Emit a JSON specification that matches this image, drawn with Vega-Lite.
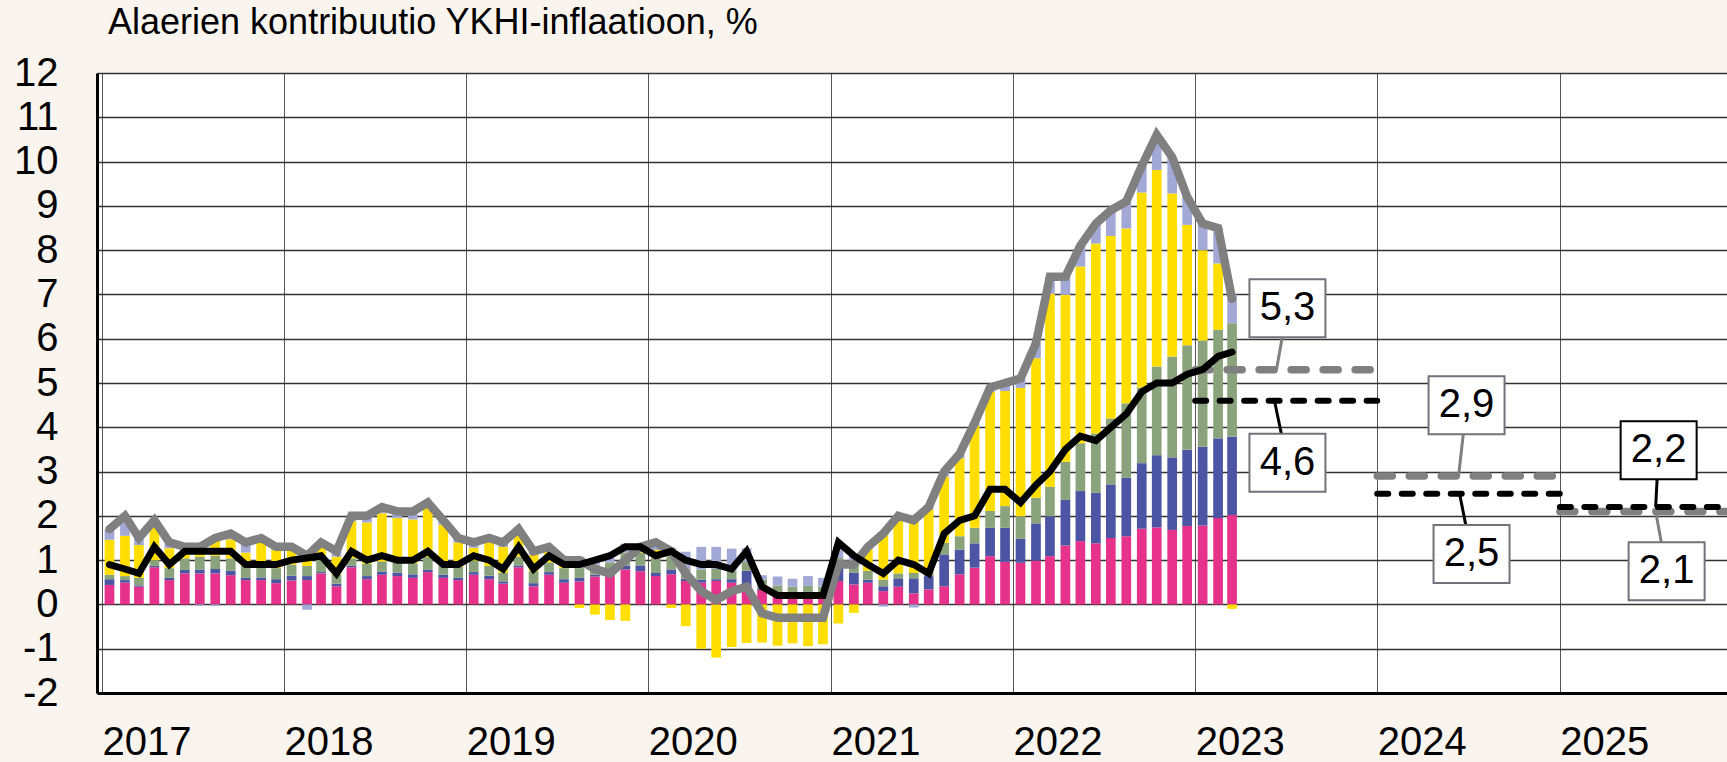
{
  "$schema": "https://vega.github.io/schema/vega-lite/v6.json",
  "width": 1630,
  "height": 620,
  "autosize": {"type": "none"},
  "padding": {"left": 97, "top": 73, "right": 0, "bottom": 69},
  "background": "#f9f5ee",
  "config": {
    "view": {"fill": "white", "stroke": null},
    "font": "Liberation Sans",
    "axis": {"ticks": false, "labelColor": "black", "labelFont": "Liberation Sans", "labelFontSize": 40, "domainColor": "black", "domainWidth": 3, "grid": true}
  },
  "title": {
    "text": "Alaerien kontribuutio YKHI-inflaatioon, %",
    "anchor": "start", "frame": "group", "dx": 11, "dy": 38, "offset": 21,
    "fontSize": 36, "fontWeight": "normal", "font": "Liberation Sans", "color": "black", "baseline": "alphabetic"
  },
  "datasets": {
    "kuukaudet": [
      {"kk":"2017-01-16","Palvelut":0.44,"Muut tavarat":0.13,"Jalostettu ruoka":0.10,"Energia":0.79,"Ei-jalostettu ruoka":0.24,"YKHI":1.7,"Pohjainflaatio":0.9},
      {"kk":"2017-02-16","Palvelut":0.49,"Muut tavarat":0.06,"Jalostettu ruoka":0.09,"Energia":0.91,"Ei-jalostettu ruoka":0.45,"YKHI":2.0,"Pohjainflaatio":0.8},
      {"kk":"2017-03-16","Palvelut":0.40,"Muut tavarat":0.03,"Jalostettu ruoka":0.17,"Energia":0.74,"Ei-jalostettu ruoka":0.16,"YKHI":1.5,"Pohjainflaatio":0.7},
      {"kk":"2017-04-16","Palvelut":0.84,"Muut tavarat":0.03,"Jalostettu ruoka":0.13,"Energia":0.73,"Ei-jalostettu ruoka":0.17,"YKHI":1.9,"Pohjainflaatio":1.3},
      {"kk":"2017-05-16","Palvelut":0.55,"Muut tavarat":0.05,"Jalostettu ruoka":0.22,"Energia":0.45,"Ei-jalostettu ruoka":0.13,"YKHI":1.4,"Pohjainflaatio":0.9},
      {"kk":"2017-06-16","Palvelut":0.70,"Muut tavarat":0.08,"Jalostettu ruoka":0.26,"Energia":0.19,"Ei-jalostettu ruoka":0.07,"YKHI":1.3,"Pohjainflaatio":1.2},
      {"kk":"2017-07-16","Palvelut":0.70,"Muut tavarat":0.09,"Jalostettu ruoka":0.29,"Energia":0.25,"Ei-jalostettu ruoka":-0.03,"YKHI":1.3,"Pohjainflaatio":1.2},
      {"kk":"2017-08-16","Palvelut":0.70,"Muut tavarat":0.10,"Jalostettu ruoka":0.30,"Energia":0.43,"Ei-jalostettu ruoka":-0.03,"YKHI":1.5,"Pohjainflaatio":1.2},
      {"kk":"2017-09-16","Palvelut":0.66,"Muut tavarat":0.10,"Jalostettu ruoka":0.28,"Energia":0.43,"Ei-jalostettu ruoka":0.13,"YKHI":1.6,"Pohjainflaatio":1.2},
      {"kk":"2017-10-16","Palvelut":0.55,"Muut tavarat":0.05,"Jalostettu ruoka":0.27,"Energia":0.30,"Ei-jalostettu ruoka":0.23,"YKHI":1.4,"Pohjainflaatio":0.9},
      {"kk":"2017-11-16","Palvelut":0.55,"Muut tavarat":0.06,"Jalostettu ruoka":0.25,"Energia":0.53,"Ei-jalostettu ruoka":0.11,"YKHI":1.5,"Pohjainflaatio":0.9},
      {"kk":"2017-12-16","Palvelut":0.48,"Muut tavarat":0.09,"Jalostettu ruoka":0.25,"Energia":0.41,"Ei-jalostettu ruoka":0.07,"YKHI":1.3,"Pohjainflaatio":0.9},
      {"kk":"2018-01-16","Palvelut":0.54,"Muut tavarat":0.11,"Jalostettu ruoka":0.25,"Energia":0.33,"Ei-jalostettu ruoka":0.07,"YKHI":1.3,"Pohjainflaatio":1.0},
      {"kk":"2018-02-16","Palvelut":0.55,"Muut tavarat":0.09,"Jalostettu ruoka":0.23,"Energia":0.35,"Ei-jalostettu ruoka":-0.12,"YKHI":1.1,"Pohjainflaatio":1.05},
      {"kk":"2018-03-16","Palvelut":0.70,"Muut tavarat":0.03,"Jalostettu ruoka":0.27,"Energia":0.30,"Ei-jalostettu ruoka":0.10,"YKHI":1.4,"Pohjainflaatio":1.1},
      {"kk":"2018-04-16","Palvelut":0.41,"Muut tavarat":0.06,"Jalostettu ruoka":0.20,"Energia":0.41,"Ei-jalostettu ruoka":0.12,"YKHI":1.2,"Pohjainflaatio":0.7},
      {"kk":"2018-05-16","Palvelut":0.84,"Muut tavarat":0.03,"Jalostettu ruoka":0.17,"Energia":0.84,"Ei-jalostettu ruoka":0.12,"YKHI":2.0,"Pohjainflaatio":1.2},
      {"kk":"2018-06-16","Palvelut":0.57,"Muut tavarat":0.07,"Jalostettu ruoka":0.28,"Energia":0.93,"Ei-jalostettu ruoka":0.15,"YKHI":2.0,"Pohjainflaatio":1.0},
      {"kk":"2018-07-16","Palvelut":0.67,"Muut tavarat":0.07,"Jalostettu ruoka":0.23,"Energia":1.09,"Ei-jalostettu ruoka":0.14,"YKHI":2.2,"Pohjainflaatio":1.1},
      {"kk":"2018-08-16","Palvelut":0.64,"Muut tavarat":0.08,"Jalostettu ruoka":0.23,"Energia":1.00,"Ei-jalostettu ruoka":0.15,"YKHI":2.1,"Pohjainflaatio":1.0},
      {"kk":"2018-09-16","Palvelut":0.60,"Muut tavarat":0.08,"Jalostettu ruoka":0.25,"Energia":0.99,"Ei-jalostettu ruoka":0.18,"YKHI":2.1,"Pohjainflaatio":1.0},
      {"kk":"2018-10-16","Palvelut":0.73,"Muut tavarat":0.05,"Jalostettu ruoka":0.29,"Energia":1.13,"Ei-jalostettu ruoka":0.10,"YKHI":2.3,"Pohjainflaatio":1.2},
      {"kk":"2018-11-16","Palvelut":0.60,"Muut tavarat":0.07,"Jalostettu ruoka":0.23,"Energia":0.90,"Ei-jalostettu ruoka":0.10,"YKHI":1.9,"Pohjainflaatio":0.9},
      {"kk":"2018-12-16","Palvelut":0.55,"Muut tavarat":0.05,"Jalostettu ruoka":0.25,"Energia":0.55,"Ei-jalostettu ruoka":0.10,"YKHI":1.5,"Pohjainflaatio":0.9},
      {"kk":"2019-01-16","Palvelut":0.67,"Muut tavarat":0.06,"Jalostettu ruoka":0.26,"Energia":0.29,"Ei-jalostettu ruoka":0.12,"YKHI":1.4,"Pohjainflaatio":1.1},
      {"kk":"2019-02-16","Palvelut":0.57,"Muut tavarat":0.08,"Jalostettu ruoka":0.22,"Energia":0.53,"Ei-jalostettu ruoka":0.10,"YKHI":1.5,"Pohjainflaatio":1.0},
      {"kk":"2019-03-16","Palvelut":0.47,"Muut tavarat":0.05,"Jalostettu ruoka":0.20,"Energia":0.58,"Ei-jalostettu ruoka":0.10,"YKHI":1.4,"Pohjainflaatio":0.8},
      {"kk":"2019-04-16","Palvelut":0.84,"Muut tavarat":0.04,"Jalostettu ruoka":0.20,"Energia":0.47,"Ei-jalostettu ruoka":0.15,"YKHI":1.7,"Pohjainflaatio":1.3},
      {"kk":"2019-05-16","Palvelut":0.41,"Muut tavarat":0.07,"Jalostettu ruoka":0.27,"Energia":0.37,"Ei-jalostettu ruoka":0.08,"YKHI":1.2,"Pohjainflaatio":0.8},
      {"kk":"2019-06-16","Palvelut":0.67,"Muut tavarat":0.06,"Jalostettu ruoka":0.22,"Energia":0.28,"Ei-jalostettu ruoka":0.07,"YKHI":1.3,"Pohjainflaatio":1.1},
      {"kk":"2019-07-16","Palvelut":0.49,"Muut tavarat":0.08,"Jalostettu ruoka":0.25,"Energia":0.10,"Ei-jalostettu ruoka":0.08,"YKHI":1.0,"Pohjainflaatio":0.9},
      {"kk":"2019-08-16","Palvelut":0.52,"Muut tavarat":0.08,"Jalostettu ruoka":0.22,"Energia":-0.08,"Ei-jalostettu ruoka":0.26,"YKHI":1.0,"Pohjainflaatio":0.9},
      {"kk":"2019-09-16","Palvelut":0.63,"Muut tavarat":0.04,"Jalostettu ruoka":0.23,"Energia":-0.23,"Ei-jalostettu ruoka":0.13,"YKHI":0.8,"Pohjainflaatio":1.0},
      {"kk":"2019-10-16","Palvelut":0.70,"Muut tavarat":0.05,"Jalostettu ruoka":0.20,"Energia":-0.35,"Ei-jalostettu ruoka":0.10,"YKHI":0.7,"Pohjainflaatio":1.1},
      {"kk":"2019-11-16","Palvelut":0.79,"Muut tavarat":0.09,"Jalostettu ruoka":0.29,"Energia":-0.37,"Ei-jalostettu ruoka":0.20,"YKHI":1.0,"Pohjainflaatio":1.3},
      {"kk":"2019-12-16","Palvelut":0.75,"Muut tavarat":0.13,"Jalostettu ruoka":0.29,"Energia":0.05,"Ei-jalostettu ruoka":0.08,"YKHI":1.3,"Pohjainflaatio":1.3},
      {"kk":"2020-01-16","Palvelut":0.64,"Muut tavarat":0.07,"Jalostettu ruoka":0.34,"Energia":0.18,"Ei-jalostettu ruoka":0.17,"YKHI":1.4,"Pohjainflaatio":1.1},
      {"kk":"2020-02-16","Palvelut":0.68,"Muut tavarat":0.11,"Jalostettu ruoka":0.30,"Energia":-0.08,"Ei-jalostettu ruoka":0.19,"YKHI":1.2,"Pohjainflaatio":1.2},
      {"kk":"2020-03-16","Palvelut":0.53,"Muut tavarat":0.05,"Jalostettu ruoka":0.22,"Energia":-0.49,"Ei-jalostettu ruoka":0.39,"YKHI":0.7,"Pohjainflaatio":1.0},
      {"kk":"2020-04-16","Palvelut":0.49,"Muut tavarat":0.07,"Jalostettu ruoka":0.23,"Energia":-1.00,"Ei-jalostettu ruoka":0.51,"YKHI":0.3,"Pohjainflaatio":0.9},
      {"kk":"2020-05-16","Palvelut":0.53,"Muut tavarat":0.04,"Jalostettu ruoka":0.23,"Energia":-1.20,"Ei-jalostettu ruoka":0.50,"YKHI":0.1,"Pohjainflaatio":0.9},
      {"kk":"2020-06-16","Palvelut":0.49,"Muut tavarat":0.08,"Jalostettu ruoka":0.19,"Energia":-0.96,"Ei-jalostettu ruoka":0.50,"YKHI":0.3,"Pohjainflaatio":0.8},
      {"kk":"2020-07-16","Palvelut":0.41,"Muut tavarat":0.35,"Jalostettu ruoka":0.21,"Energia":-0.87,"Ei-jalostettu ruoka":0.30,"YKHI":0.4,"Pohjainflaatio":1.2},
      {"kk":"2020-08-16","Palvelut":0.33,"Muut tavarat":0.03,"Jalostettu ruoka":0.20,"Energia":-0.86,"Ei-jalostettu ruoka":0.10,"YKHI":-0.2,"Pohjainflaatio":0.4},
      {"kk":"2020-09-16","Palvelut":0.22,"Muut tavarat":0.02,"Jalostettu ruoka":0.19,"Energia":-0.93,"Ei-jalostettu ruoka":0.20,"YKHI":-0.3,"Pohjainflaatio":0.2},
      {"kk":"2020-10-16","Palvelut":0.20,"Muut tavarat":0.03,"Jalostettu ruoka":0.17,"Energia":-0.88,"Ei-jalostettu ruoka":0.18,"YKHI":-0.3,"Pohjainflaatio":0.2},
      {"kk":"2020-11-16","Palvelut":0.22,"Muut tavarat":0.03,"Jalostettu ruoka":0.17,"Energia":-0.94,"Ei-jalostettu ruoka":0.22,"YKHI":-0.3,"Pohjainflaatio":0.2},
      {"kk":"2020-12-16","Palvelut":0.22,"Muut tavarat":0.03,"Jalostettu ruoka":0.15,"Energia":-0.90,"Ei-jalostettu ruoka":0.20,"YKHI":-0.3,"Pohjainflaatio":0.2},
      {"kk":"2021-01-16","Palvelut":0.53,"Muut tavarat":0.30,"Jalostettu ruoka":0.22,"Energia":-0.43,"Ei-jalostettu ruoka":0.28,"YKHI":0.9,"Pohjainflaatio":1.4},
      {"kk":"2021-02-16","Palvelut":0.45,"Muut tavarat":0.27,"Jalostettu ruoka":0.17,"Energia":-0.19,"Ei-jalostettu ruoka":0.20,"YKHI":0.9,"Pohjainflaatio":1.1},
      {"kk":"2021-03-16","Palvelut":0.49,"Muut tavarat":0.07,"Jalostettu ruoka":0.20,"Energia":0.49,"Ei-jalostettu ruoka":0.05,"YKHI":1.3,"Pohjainflaatio":0.9},
      {"kk":"2021-04-16","Palvelut":0.30,"Muut tavarat":0.11,"Jalostettu ruoka":0.15,"Energia":1.09,"Ei-jalostettu ruoka":-0.05,"YKHI":1.6,"Pohjainflaatio":0.7},
      {"kk":"2021-05-16","Palvelut":0.40,"Muut tavarat":0.19,"Jalostettu ruoka":0.11,"Energia":1.30,"Ei-jalostettu ruoka":0.0,"YKHI":2.0,"Pohjainflaatio":1.0},
      {"kk":"2021-06-16","Palvelut":0.25,"Muut tavarat":0.34,"Jalostettu ruoka":0.12,"Energia":1.26,"Ei-jalostettu ruoka":-0.07,"YKHI":1.9,"Pohjainflaatio":0.9},
      {"kk":"2021-07-16","Palvelut":0.34,"Muut tavarat":0.30,"Jalostettu ruoka":0.14,"Energia":1.37,"Ei-jalostettu ruoka":0.05,"YKHI":2.2,"Pohjainflaatio":0.7},
      {"kk":"2021-08-16","Palvelut":0.41,"Muut tavarat":0.72,"Jalostettu ruoka":0.26,"Energia":1.50,"Ei-jalostettu ruoka":0.11,"YKHI":3.0,"Pohjainflaatio":1.6},
      {"kk":"2021-09-16","Palvelut":0.68,"Muut tavarat":0.56,"Jalostettu ruoka":0.30,"Energia":1.76,"Ei-jalostettu ruoka":0.10,"YKHI":3.4,"Pohjainflaatio":1.9},
      {"kk":"2021-10-16","Palvelut":0.83,"Muut tavarat":0.55,"Jalostettu ruoka":0.35,"Energia":2.30,"Ei-jalostettu ruoka":0.07,"YKHI":4.1,"Pohjainflaatio":2.0},
      {"kk":"2021-11-16","Palvelut":1.09,"Muut tavarat":0.64,"Jalostettu ruoka":0.38,"Energia":2.69,"Ei-jalostettu ruoka":0.10,"YKHI":4.9,"Pohjainflaatio":2.6},
      {"kk":"2021-12-16","Palvelut":0.96,"Muut tavarat":0.77,"Jalostettu ruoka":0.49,"Energia":2.60,"Ei-jalostettu ruoka":0.18,"YKHI":5.0,"Pohjainflaatio":2.6},
      {"kk":"2022-01-16","Palvelut":0.94,"Muut tavarat":0.54,"Jalostettu ruoka":0.51,"Energia":2.90,"Ei-jalostettu ruoka":0.21,"YKHI":5.1,"Pohjainflaatio":2.3},
      {"kk":"2022-02-16","Palvelut":0.99,"Muut tavarat":0.84,"Jalostettu ruoka":0.58,"Energia":3.15,"Ei-jalostettu ruoka":0.34,"YKHI":5.9,"Pohjainflaatio":2.7},
      {"kk":"2022-03-16","Palvelut":1.09,"Muut tavarat":0.90,"Jalostettu ruoka":0.67,"Energia":4.36,"Ei-jalostettu ruoka":0.38,"YKHI":7.4,"Pohjainflaatio":3.0},
      {"kk":"2022-04-16","Palvelut":1.33,"Muut tavarat":1.03,"Jalostettu ruoka":0.86,"Energia":3.77,"Ei-jalostettu ruoka":0.41,"YKHI":7.4,"Pohjainflaatio":3.5},
      {"kk":"2022-05-16","Palvelut":1.43,"Muut tavarat":1.13,"Jalostettu ruoka":1.08,"Energia":3.99,"Ei-jalostettu ruoka":0.47,"YKHI":8.1,"Pohjainflaatio":3.8},
      {"kk":"2022-06-16","Palvelut":1.38,"Muut tavarat":1.14,"Jalostettu ruoka":1.34,"Energia":4.29,"Ei-jalostettu ruoka":0.45,"YKHI":8.6,"Pohjainflaatio":3.7},
      {"kk":"2022-07-16","Palvelut":1.50,"Muut tavarat":1.21,"Jalostettu ruoka":1.49,"Energia":4.12,"Ei-jalostettu ruoka":0.58,"YKHI":8.9,"Pohjainflaatio":4.0},
      {"kk":"2022-08-16","Palvelut":1.54,"Muut tavarat":1.32,"Jalostettu ruoka":1.68,"Energia":3.95,"Ei-jalostettu ruoka":0.61,"YKHI":9.1,"Pohjainflaatio":4.3},
      {"kk":"2022-09-16","Palvelut":1.71,"Muut tavarat":1.48,"Jalostettu ruoka":1.71,"Energia":4.40,"Ei-jalostettu ruoka":0.60,"YKHI":9.9,"Pohjainflaatio":4.8},
      {"kk":"2022-10-16","Palvelut":1.74,"Muut tavarat":1.63,"Jalostettu ruoka":2.00,"Energia":4.44,"Ei-jalostettu ruoka":0.79,"YKHI":10.6,"Pohjainflaatio":5.0},
      {"kk":"2022-11-16","Palvelut":1.68,"Muut tavarat":1.64,"Jalostettu ruoka":2.28,"Energia":3.68,"Ei-jalostettu ruoka":0.82,"YKHI":10.1,"Pohjainflaatio":5.0},
      {"kk":"2022-12-16","Palvelut":1.77,"Muut tavarat":1.72,"Jalostettu ruoka":2.36,"Energia":2.72,"Ei-jalostettu ruoka":0.63,"YKHI":9.2,"Pohjainflaatio":5.2},
      {"kk":"2023-01-16","Palvelut":1.78,"Muut tavarat":1.78,"Jalostettu ruoka":2.40,"Energia":2.04,"Ei-jalostettu ruoka":0.60,"YKHI":8.6,"Pohjainflaatio":5.3},
      {"kk":"2023-02-16","Palvelut":1.95,"Muut tavarat":1.80,"Jalostettu ruoka":2.45,"Energia":1.50,"Ei-jalostettu ruoka":0.80,"YKHI":8.5,"Pohjainflaatio":5.6},
      {"kk":"2023-03-16","Palvelut":2.02,"Muut tavarat":1.77,"Jalostettu ruoka":2.56,"Energia":-0.10,"Ei-jalostettu ruoka":0.65,"YKHI":6.9,"Pohjainflaatio":5.7}
    ],
    "ennuste": [
      {"alku":"2023-01-01","loppu":"2024-01-01","YKHI":5.3,"Pohjainflaatio":4.6},
      {"alku":"2024-01-01","loppu":"2025-01-01","YKHI":2.9,"Pohjainflaatio":2.5},
      {"alku":"2025-01-01","loppu":"2026-01-01","YKHI":2.1,"Pohjainflaatio":2.2}
    ],
    "merkinnat": [
      {"teksti":"5,3","arvo":5.3,"kohde":"2023-06-13","kk":"2023-07-05","keski":6.69,"sarja":"YKHI"},
      {"teksti":"4,6","arvo":4.6,"kohde":"2023-06-09","kk":"2023-07-05","keski":3.20,"sarja":"Pohjainflaatio"},
      {"teksti":"2,9","arvo":2.9,"kohde":"2024-06-12","kk":"2024-06-28","keski":4.50,"sarja":"YKHI"},
      {"teksti":"2,5","arvo":2.5,"kohde":"2024-06-14","kk":"2024-07-08","keski":1.14,"sarja":"Pohjainflaatio"},
      {"teksti":"2,2","arvo":2.2,"kohde":"2025-07-12","kk":"2025-07-18","keski":3.48,"sarja":"Pohjainflaatio"},
      {"teksti":"2,1","arvo":2.1,"kohde":"2025-07-12","kk":"2025-08-03","keski":0.75,"sarja":"YKHI"}
    ]
  },
  "layer": [
    {
      "data": {"name": "kuukaudet"},
      "transform": [{"fold": ["Palvelut", "Muut tavarat", "Jalostettu ruoka", "Energia", "Ei-jalostettu ruoka"], "as": ["erä", "osuus"]}],
      "mark": {"type": "bar", "width": 9.7},
      "encoding": {
        "x": {"field": "kk", "type": "temporal", "title": null,
          "scale": {"type": "utc", "domain": [{"year": 2017, "month": 1, "date": 1, "utc": true}, {"year": 2025, "month": 11, "date": 22, "utc": true}]},
          "axis": {"tickCount": {"interval": "year", "step": 1}, "format": "%Y", "labelAlign": "left", "labelBaseline": "top", "labelPadding": 29, "labelFlush": false, "labelOverlap": false, "gridColor": "#555555", "gridWidth": 1, "domainWidth": 3}},
        "y": {"field": "osuus", "type": "quantitative", "title": null, "stack": "zero",
          "scale": {"domain": [-2, 12], "nice": false, "zero": false},
          "axis": {"values": [-2, -1, 0, 1, 2, 3, 4, 5, 6, 7, 8, 9, 10, 11, 12], "labelPadding": 39, "gridColor": "#333333", "gridWidth": 1.3, "labelExpr": "(datum.value < 0 ? '-' : '') + abs(datum.value)"}},
        "color": {"field": "erä", "type": "nominal", "legend": null,
          "scale": {"domain": ["Palvelut", "Muut tavarat", "Jalostettu ruoka", "Energia", "Ei-jalostettu ruoka"], "range": ["#e7328b", "#4b55a3", "#8ba37c", "#ffde00", "#a3a9d7"]}}
      }
    },
    {
      "data": {"name": "ennuste"},
      "mark": {"type": "rule", "color": "#808080", "strokeWidth": 7.5, "strokeDash": [15, 17], "strokeCap": "round", "clip": true},
      "encoding": {
        "x": {"field": "alku", "type": "temporal", "title": null},
        "x2": {"field": "loppu"},
        "y": {"field": "YKHI", "type": "quantitative", "title": null}
      }
    },
    {
      "data": {"name": "ennuste"},
      "mark": {"type": "rule", "color": "black", "strokeWidth": 6, "strokeDash": [11, 13.5], "strokeCap": "round", "clip": true},
      "encoding": {
        "x": {"field": "alku", "type": "temporal", "title": null},
        "x2": {"field": "loppu"},
        "y": {"field": "Pohjainflaatio", "type": "quantitative", "title": null}
      }
    },
    {
      "data": {"name": "kuukaudet"},
      "mark": {"type": "line", "color": "#808080", "strokeWidth": 8.5, "strokeCap": "round"},
      "encoding": {
        "x": {"field": "kk", "type": "temporal", "title": null},
        "y": {"field": "YKHI", "type": "quantitative", "title": null}
      }
    },
    {
      "data": {"name": "kuukaudet"},
      "mark": {"type": "line", "color": "black", "strokeWidth": 7, "strokeCap": "round"},
      "encoding": {
        "x": {"field": "kk", "type": "temporal", "title": null},
        "y": {"field": "Pohjainflaatio", "type": "quantitative", "title": null}
      }
    },
    {
      "mark": {"type": "rule", "color": "black", "strokeWidth": 2},
      "encoding": {"y": {"datum": 12, "type": "quantitative", "title": null}}
    },
    {
      "data": {"name": "merkinnat"},
      "mark": {"type": "rule", "strokeWidth": 3},
      "encoding": {
        "x": {"field": "kk", "type": "temporal", "title": null},
        "y": {"field": "keski", "type": "quantitative", "title": null},
        "x2": {"field": "kohde"},
        "y2": {"field": "arvo"},
        "stroke": {"condition": {"test": "datum.sarja === 'Pohjainflaatio'", "value": "black"}, "value": "#808080"}
      }
    },
    {
      "data": {"name": "merkinnat"},
      "mark": {"type": "point", "shape": "M-1,-0.763H1V0.763H-1Z", "size": 5776, "filled": true, "fill": "white", "opacity": 1, "strokeWidth": 2},
      "encoding": {
        "x": {"field": "kk", "type": "temporal", "title": null},
        "y": {"field": "keski", "type": "quantitative", "title": null},
        "stroke": {"condition": {"test": "datum.teksti === '2,2'", "value": "black"}, "value": "#75707a"}
      }
    },
    {
      "data": {"name": "merkinnat"},
      "mark": {"type": "text", "fontSize": 40, "font": "Liberation Sans", "color": "black", "align": "center", "baseline": "middle"},
      "encoding": {
        "x": {"field": "kk", "type": "temporal", "title": null},
        "y": {"field": "keski", "type": "quantitative", "title": null},
        "text": {"field": "teksti"}
      }
    }
  ]
}
